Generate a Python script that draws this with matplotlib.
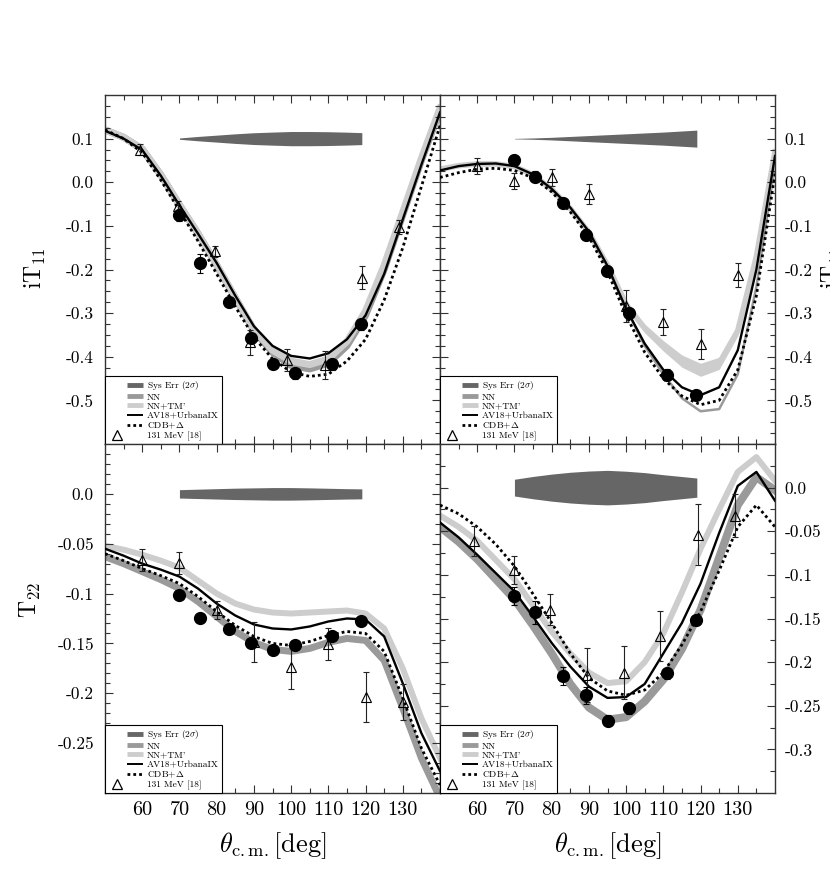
import numpy as np
import matplotlib
matplotlib.use('Agg')
import matplotlib.pyplot as plt
from matplotlib.lines import Line2D
from matplotlib.legend_handler import HandlerLine2D

plt.rcParams['font.family'] = 'serif'
plt.rcParams['font.serif'] = ['cmr10']
plt.rcParams['mathtext.fontset'] = 'cm'
plt.rcParams['axes.unicode_minus'] = False

theta = [50, 55, 60, 65, 70, 75, 80, 85, 90, 95, 100, 105, 110, 115, 120, 125, 130, 135, 140]
sys_theta = [70, 75, 80, 85, 90, 95, 100, 105, 110, 115, 119]

# ---- iT11, left (top-left panel)
tl_nn = [0.12, 0.103, 0.076, 0.017, -0.052, -0.118, -0.19, -0.265, -0.34, -0.39, -0.42, -0.428, -0.415, -0.375, -0.305, -0.2, -0.075, 0.05, 0.165]
tl_tm = [0.12, 0.103, 0.076, 0.017, -0.052, -0.118, -0.19, -0.265, -0.337, -0.385, -0.41, -0.418, -0.405, -0.365, -0.295, -0.19, -0.068, 0.055, 0.17]
tl_av = [0.118, 0.1, 0.074, 0.015, -0.053, -0.118, -0.185, -0.26, -0.33, -0.375, -0.398, -0.404, -0.392, -0.36, -0.305, -0.21, -0.085, 0.04, 0.16]
tl_cdb = [0.12, 0.1, 0.068, 0.005, -0.065, -0.135, -0.21, -0.285, -0.355, -0.405, -0.435, -0.445, -0.44, -0.41, -0.36, -0.27, -0.15, -0.01, 0.13]
tl_sys = [0.0015, 0.005, 0.008, 0.011, 0.0135, 0.015, 0.0163, 0.0163, 0.0158, 0.0148, 0.0137]
tl_c_x = [70, 75.6, 83.2, 89.1, 95.1, 101, 111, 118.9]
tl_c_y = [-0.076, -0.186, -0.275, -0.357, -0.417, -0.438, -0.417, -0.326]
tl_c_e = [0.012, 0.021, 0.012, 0.012, 0.012, 0.012, 0.012, 0.012]
tl_t_x = [59.5, 69.5, 79.5, 89, 99, 109, 119, 129]
tl_t_y = [0.075, -0.055, -0.158, -0.367, -0.407, -0.419, -0.219, -0.103]
tl_t_e = [0.013, 0.013, 0.013, 0.028, 0.025, 0.032, 0.026, 0.016]

# ---- iT11, right (top-right panel)
tr_nn = [0.03, 0.04, 0.044, 0.044, 0.038, 0.018, -0.016, -0.06, -0.115, -0.193, -0.29, -0.375, -0.44, -0.495, -0.525, -0.52, -0.44, -0.24, 0.04]
tr_tm = [0.03, 0.038, 0.042, 0.042, 0.036, 0.017, -0.016, -0.06, -0.115, -0.19, -0.28, -0.335, -0.375, -0.41, -0.43, -0.415, -0.34, -0.17, 0.07]
tr_tm_w = [0.004, 0.004, 0.004, 0.004, 0.004, 0.004, 0.004, 0.004, 0.005, 0.006, 0.008, 0.01, 0.012, 0.014, 0.015, 0.014, 0.012, 0.008, 0.006]
tr_av = [0.027, 0.037, 0.042, 0.043, 0.037, 0.018, -0.015, -0.058, -0.113, -0.192, -0.29, -0.37, -0.43, -0.47, -0.488, -0.47, -0.385, -0.2, 0.06]
tr_cdb = [0.011, 0.022, 0.03, 0.032, 0.027, 0.01, -0.022, -0.068, -0.125, -0.205, -0.305, -0.39, -0.45, -0.49, -0.51, -0.5, -0.43, -0.26, 0.02]
tr_sys = [0.0005, 0.0015, 0.003, 0.005, 0.007, 0.009, 0.011, 0.013, 0.015, 0.0175, 0.0195]
tr_c_x = [69.9, 75.6, 83.1, 89.1, 94.9, 100.8, 110.9, 118.7]
tr_c_y = [0.05, 0.013, -0.047, -0.12, -0.204, -0.30, -0.441, -0.488]
tr_c_e = [0.012, 0.012, 0.012, 0.012, 0.012, 0.012, 0.012, 0.012]
tr_t_x = [60, 70, 80, 90, 100, 110, 120, 130]
tr_t_y = [0.037, 0.003, 0.011, -0.028, -0.284, -0.32, -0.371, -0.213]
tr_t_e = [0.018, 0.019, 0.019, 0.023, 0.037, 0.03, 0.035, 0.027]

# ---- T22, left (bottom-left panel)
bl_nn = [-0.063, -0.07, -0.078, -0.086, -0.095, -0.108, -0.123, -0.138, -0.149, -0.156, -0.158, -0.155, -0.149, -0.145, -0.147, -0.167, -0.215, -0.265, -0.305]
bl_tm = [-0.052, -0.056, -0.061, -0.067, -0.074, -0.087, -0.1, -0.11, -0.116, -0.119, -0.12, -0.119, -0.118, -0.117, -0.12, -0.135, -0.175, -0.225, -0.265]
bl_av = [-0.055, -0.062, -0.07, -0.076, -0.083, -0.095, -0.11, -0.122, -0.131, -0.135, -0.136, -0.133, -0.128, -0.125, -0.126, -0.143, -0.19, -0.24, -0.278]
bl_cdb = [-0.06, -0.067, -0.075, -0.082, -0.09, -0.103, -0.118, -0.132, -0.143, -0.15, -0.152, -0.148, -0.142, -0.138, -0.14, -0.158, -0.205, -0.255, -0.292]
bl_sys = [0.0042, 0.0047, 0.0052, 0.0057, 0.006, 0.0063, 0.0063, 0.006, 0.0056, 0.0052, 0.005]
bl_c_x = [70, 75.6, 83.2, 89.1, 95.1, 101, 111, 118.9]
bl_c_y = [-0.101, -0.124, -0.136, -0.15, -0.157, -0.152, -0.143, -0.128]
bl_c_e = [0.004, 0.004, 0.004, 0.004, 0.004, 0.004, 0.004, 0.004]
bl_t_x = [60, 70, 80, 90, 100, 110, 120, 130]
bl_t_y = [-0.066, -0.069, -0.116, -0.149, -0.174, -0.151, -0.204, -0.209]
bl_t_e = [0.011, 0.011, 0.009, 0.02, 0.022, 0.016, 0.025, 0.018]

# ---- T22, right (bottom-right panel)
br_nn = [-0.045, -0.062, -0.082, -0.105, -0.128, -0.158, -0.19, -0.225, -0.252, -0.266, -0.263, -0.245, -0.22, -0.185, -0.14, -0.08, -0.02, 0.012, -0.003]
br_tm = [-0.032, -0.045, -0.061, -0.083, -0.105, -0.135, -0.165, -0.19, -0.212, -0.224, -0.222, -0.2, -0.167, -0.12, -0.07, -0.025, 0.018, 0.035, 0.008]
br_av = [-0.04, -0.057, -0.077, -0.098, -0.119, -0.148, -0.178, -0.205, -0.228, -0.241, -0.24, -0.225, -0.19, -0.155, -0.11, -0.052, 0.002, 0.018, -0.015]
br_cdb = [-0.02, -0.03, -0.045, -0.065, -0.09, -0.122, -0.155, -0.19, -0.218, -0.233, -0.238, -0.232, -0.212, -0.18, -0.142, -0.095, -0.045, -0.02, -0.045]
br_sys = [0.0096, 0.0128, 0.0155, 0.0176, 0.019, 0.0198, 0.0188, 0.0172, 0.0148, 0.0127, 0.011]
br_c_x = [70, 75.5, 83.1, 89.1, 95.2, 100.8, 110.9, 118.7]
br_c_y = [-0.124, -0.143, -0.216, -0.238, -0.267, -0.253, -0.213, -0.152]
br_c_e = [0.01, 0.013, 0.01, 0.01, 0.006, 0.006, 0.006, 0.006]
br_t_x = [59, 70, 79.5, 89.5, 99.5, 109.2, 119.2, 129.3]
br_t_y = [-0.061, -0.094, -0.140, -0.215, -0.212, -0.170, -0.054, -0.032]
br_t_e = [0.017, 0.016, 0.018, 0.031, 0.03, 0.029, 0.035, 0.025]

# ticks
x_major = [60, 70, 80, 90, 100, 110, 120, 130]
x_labels = ['60', '70', '80', '90', '100', '110', '120', '130']
top_yt = [0.1, 0.0, -0.1, -0.2, -0.3, -0.4, -0.5]
top_yl = ['0.1', '0.0', '-0.1', '-0.2', '-0.3', '-0.4', '-0.5']
bl_yt = [0.0, -0.05, -0.1, -0.15, -0.2, -0.25]
bl_yl = ['0.0', '-0.05', '-0.1', '-0.15', '-0.2', '-0.25']
br_yt = [0.0, -0.05, -0.1, -0.15, -0.2, -0.25, -0.3]
br_yl = ['0.0', '-0.05', '-0.1', '-0.15', '-0.2', '-0.25', '-0.3']

C_SYS = '#666666'
C_NN = '#9a9a9a'
C_TM = '#cdcdcd'


class PartLine(HandlerLine2D):
    """draw the legend key only in part [a, b] of the handle box"""
    def __init__(self, a, b):
        super().__init__(numpoints=1)
        self.a = a
        self.b = b

    def get_xdata(self, legend, xdescent, ydescent, width, height, fontsize):
        x = -xdescent + width * np.array([self.a, self.b])
        return x, np.array([x.mean()])


def panel(ax, nn, tm, av, cdb, sys_c, sys_w, cx, cy, ce, tx, ty, te,
          nn_lw=4.5, tm_lw=4.5, tm_w=None):
    ax.plot(theta, nn, color=C_NN, lw=nn_lw, solid_joinstyle='round', zorder=1)
    if tm_w is not None:
        lo = np.array(tm) - np.array(tm_w)
        hi = np.array(tm) + np.array(tm_w)
        ax.fill_between(theta, lo, hi, color=C_TM, lw=0, zorder=1.2)
    ax.plot(theta, tm, color=C_TM, lw=tm_lw, solid_joinstyle='round', zorder=1.3)
    ax.plot(theta, av, color='k', lw=1.7, zorder=3)
    ax.plot(theta, cdb, color='k', lw=2.0, ls=(0, (1, 1.1)), zorder=3)
    s = np.array(sys_w)
    ax.fill_between(sys_theta, sys_c - s, sys_c + s, color=C_SYS, lw=0, zorder=2)
    ax.errorbar(tx, ty, yerr=te, fmt='^', ms=7, mfc='none', mec='k', mew=0.8,
                ecolor='#222222', elinewidth=0.8, capsize=2.5, capthick=0.8, zorder=4)
    ax.errorbar(cx, cy, yerr=ce, fmt='o', ms=8.5, mfc='k', mec='k',
                ecolor='k', elinewidth=0.8, capsize=2.5, capthick=0.8, zorder=5)

    ax.set_xlim(50, 140)
    ax.set_xticks(x_major)
    ax.set_xticks(np.arange(55, 140, 5), minor=True)
    ax.tick_params(which='both', direction='in', top=True, bottom=True,
                   left=True, right=True, width=0.8, colors='#333333')
    ax.tick_params(which='major', length=6)
    ax.tick_params(which='minor', length=3.5)
    for sp in ax.spines.values():
        sp.set_linewidth(1.0)
        sp.set_color('#333333')

    h_sys = Line2D([], [], color=C_SYS, lw=3.5, solid_capstyle='butt')
    h_nn = Line2D([], [], color=C_NN, lw=3.5, solid_capstyle='butt')
    h_tm = Line2D([], [], color=C_TM, lw=3.5, solid_capstyle='butt')
    h_av = Line2D([], [], color='k', lw=1.4, solid_capstyle='butt')
    h_cdb = Line2D([], [], color='k', lw=2.0, ls=(0, (1, 1.1)))
    h_tri = Line2D([], [], ls='none', marker='^', ms=6.5, mfc='none', mec='k', mew=0.9)
    hm = {h: PartLine(0.54, 1.0) for h in [h_sys, h_nn, h_tm, h_av, h_cdb]}
    hm[h_tri] = PartLine(0.22, 0.28)
    leg = ax.legend([h_sys, h_nn, h_tm, h_av, h_cdb, h_tri],
                    ['Sys Err (2$\\sigma$)', 'NN', "NN+TM'", 'AV18+UrbanaIX',
                     'CDB+$\\Delta$', '131 MeV [18]'],
                    handler_map=hm, loc='lower left', borderaxespad=0,
                    fontsize=6.8, fancybox=False, framealpha=1, edgecolor='k',
                    handlelength=3.65, handletextpad=0.45, labelspacing=0.06,
                    borderpad=0.35)
    leg.get_frame().set_linewidth(0.8)
    leg.set_zorder(10)


fig = plt.figure(figsize=(8.3, 8.73), dpi=100)
W = 335 / 830
H = 349 / 873
ax_tl = fig.add_axes([105 / 830, 1 - 444 / 873, W, H])
ax_tr = fig.add_axes([440 / 830, 1 - 444 / 873, W, H])
ax_bl = fig.add_axes([105 / 830, 1 - 793 / 873, W, H])
ax_br = fig.add_axes([440 / 830, 1 - 793 / 873, W, H])

panel(ax_tl, tl_nn, tl_tm, tl_av, tl_cdb, 0.1, tl_sys,
      tl_c_x, tl_c_y, tl_c_e, tl_t_x, tl_t_y, tl_t_e, nn_lw=5, tm_lw=5)
panel(ax_tr, tr_nn, tr_tm, tr_av, tr_cdb, 0.1, tr_sys,
      tr_c_x, tr_c_y, tr_c_e, tr_t_x, tr_t_y, tr_t_e, nn_lw=1.8, tm_lw=4.0, tm_w=tr_tm_w)
panel(ax_bl, bl_nn, bl_tm, bl_av, bl_cdb, 0.0, bl_sys,
      bl_c_x, bl_c_y, bl_c_e, bl_t_x, bl_t_y, bl_t_e, nn_lw=5, tm_lw=4.3)
panel(ax_br, br_nn, br_tm, br_av, br_cdb, 0.0, br_sys,
      br_c_x, br_c_y, br_c_e, br_t_x, br_t_y, br_t_e, nn_lw=5.8, tm_lw=4.3)

for ax in (ax_tl, ax_tr):
    ax.set_ylim(-0.6, 0.2)
    ax.set_yticks(top_yt)
    ax.set_yticklabels(top_yl)
    ax.set_yticks(np.arange(-0.575, 0.2, 0.025), minor=True)
    ax.tick_params(labelbottom=False)

ax_bl.set_ylim(-0.3, 0.05)
ax_bl.set_yticks(bl_yt)
ax_bl.set_yticklabels(bl_yl)
ax_bl.set_yticks(np.arange(-0.29, 0.05, 0.01), minor=True)

ax_br.set_ylim(-0.35, 0.05)
ax_br.set_yticks(br_yt)
ax_br.set_yticklabels(br_yl)
ax_br.set_yticks(np.arange(-0.325, 0.05, 0.025), minor=True)

for ax in (ax_tl, ax_bl):
    ax.tick_params(axis='y', which='major', labelsize=12.5, pad=8, labelcolor='k')
for ax in (ax_tr, ax_br):
    ax.tick_params(axis='y', which='major', labelsize=12.5, pad=7, labelcolor='k',
                   labelleft=False, labelright=True)
for ax in (ax_bl, ax_br):
    ax.set_xticklabels(x_labels)
    ax.tick_params(axis='x', which='major', labelsize=14.5, pad=6, labelcolor='k')
    ax.set_xlabel('$\\theta_{\\rm c.m.}$[deg]', fontsize=19, labelpad=8)

fig.text(35 / 830, 1 - 268 / 873, 'iT$_{11}$', rotation=90, ha='center', va='center', fontsize=17)
fig.text(30 / 830, 1 - 600 / 873, 'T$_{22}$', rotation=90, ha='center', va='center', fontsize=17)
# right-hand axis title sits mostly beyond the figure edge, as in the original
fig.text(820 / 830, 1 - 268 / 873, 'iT$_{11}$', rotation=90, ha='left', va='center', fontsize=17)

fig.savefig('out.png', dpi=100)
